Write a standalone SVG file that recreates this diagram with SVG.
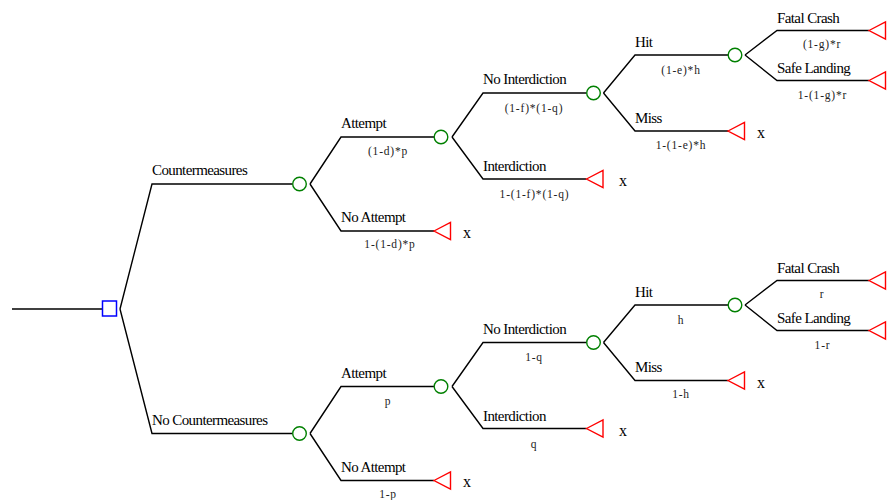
<svg xmlns="http://www.w3.org/2000/svg" width="896" height="500" viewBox="0 0 896 500">
  <style>
    .edge { fill: none; stroke: #000; stroke-width: 1.4; }
    .chance { fill: #fff; stroke: #008000; stroke-width: 1.4; }
    .decision { fill: #fff; stroke: #0000ff; stroke-width: 1.5; }
    .terminal { fill: #fff; stroke: #ff0000; stroke-width: 1.4; }
    .name { font-family: "Liberation Serif", "Times New Roman", serif; font-size: 15px; letter-spacing: -0.6px; fill: #000; }
    .prob { font-family: "Liberation Serif", "Times New Roman", serif; font-size: 11.5px; letter-spacing: 0.8px; fill: #222; text-anchor: middle; }
    .payoff { font-family: "Liberation Serif", "Times New Roman", serif; font-size: 16px; fill: #000; }
  </style>
  <defs>
    <path id="tri" d="M0,0 L16.5,-8.5 L16.5,8.5 Z"/>
  </defs>
  <rect width="896" height="500" fill="#fff"/>

  <!-- branches -->
  <g id="connectors">
    <path class="edge" d="M12,309 H102.5"/>
    <path class="edge" d="M120,309 L152,184 H292.5"/>
    <path class="edge" d="M120,309 L152,433.5 H292.5"/>
    <!-- with countermeasures -->
    <path class="edge" d="M310,184 L341,137 H434"/>
    <path class="edge" d="M310,184 L341,231 H434"/>
    <path class="edge" d="M452,137 L483,93 H586.5"/>
    <path class="edge" d="M452,137 L483,179 H586.5"/>
    <path class="edge" d="M603.5,93 L635,55 H728"/>
    <path class="edge" d="M603.5,93 L635,131 H728"/>
    <path class="edge" d="M745,55 L777,30.5 H869"/>
    <path class="edge" d="M745,55 L777,80.5 H869"/>
    <!-- no countermeasures -->
    <path class="edge" d="M310,433.5 L341,386.5 H434"/>
    <path class="edge" d="M310,433.5 L341,480.5 H434"/>
    <path class="edge" d="M452,386.5 L483,342.5 H586.5"/>
    <path class="edge" d="M452,386.5 L483,428.5 H586.5"/>
    <path class="edge" d="M603.5,342.5 L635,305 H728"/>
    <path class="edge" d="M603.5,342.5 L635,380.5 H728"/>
    <path class="edge" d="M745,305 L777,280.5 H869"/>
    <path class="edge" d="M745,305 L777,330.5 H869"/>
  </g>

  <g id="branch-labels">
    <text class="name" x="152" y="175">Countermeasures</text>
    <text class="name" x="152" y="424.5">No Countermeasures</text>

    <text class="name" x="341" y="128">Attempt</text>
    <text class="prob" x="388" y="155">(1-d)*p</text>
    <text class="name" x="341" y="222">No Attempt</text>
    <text class="prob" x="390" y="248">1-(1-d)*p</text>
    <text class="name" x="483" y="84">No Interdiction</text>
    <text class="prob" x="534" y="111.5">(1-f)*(1-q)</text>
    <text class="name" x="483" y="171">Interdiction</text>
    <text class="prob" x="534.5" y="198">1-(1-f)*(1-q)</text>
    <text class="name" x="635" y="46.5">Hit</text>
    <text class="prob" x="681" y="74">(1-e)*h</text>
    <text class="name" x="635" y="122.5">Miss</text>
    <text class="prob" x="681" y="148.5">1-(1-e)*h</text>
    <text class="name" x="777" y="22.5">Fatal Crash</text>
    <text class="prob" x="822" y="47.5">(1-g)*r</text>
    <text class="name" x="777" y="72.5">Safe Landing</text>
    <text class="prob" x="822.5" y="99">1-(1-g)*r</text>

    <text class="name" x="341" y="377.5">Attempt</text>
    <text class="prob" x="388" y="404.5">p</text>
    <text class="name" x="341" y="471.5">No Attempt</text>
    <text class="prob" x="388" y="497.5">1-p</text>
    <text class="name" x="483" y="333.5">No Interdiction</text>
    <text class="prob" x="534" y="361">1-q</text>
    <text class="name" x="483" y="420.5">Interdiction</text>
    <text class="prob" x="534" y="447.5">q</text>
    <text class="name" x="635" y="296.5">Hit</text>
    <text class="prob" x="681" y="324">h</text>
    <text class="name" x="635" y="372">Miss</text>
    <text class="prob" x="681" y="398">1-h</text>
    <text class="name" x="777" y="272.5">Fatal Crash</text>
    <text class="prob" x="822" y="297.5">r</text>
    <text class="name" x="777" y="322.5">Safe Landing</text>
    <text class="prob" x="822.5" y="348.5">1-r</text>
  </g>

  <!-- decision node -->
  <g id="decision">
    <rect class="decision" x="102.5" y="301" width="14" height="15"/>
  </g>

  <!-- chance nodes -->
  <g id="chance-cm"><circle class="chance" cx="299.5" cy="184" r="6.8"/></g>
  <g id="chance-cm-attempt"><circle class="chance" cx="441" cy="137" r="6.8"/></g>
  <g id="chance-cm-nointerdiction"><circle class="chance" cx="593.5" cy="93" r="6.8"/></g>
  <g id="chance-cm-hit"><circle class="chance" cx="735" cy="55" r="6.8"/></g>
  <g id="chance-ncm"><circle class="chance" cx="299.5" cy="433.5" r="6.8"/></g>
  <g id="chance-ncm-attempt"><circle class="chance" cx="441" cy="386.5" r="6.8"/></g>
  <g id="chance-ncm-nointerdiction"><circle class="chance" cx="593.5" cy="342.5" r="6.8"/></g>
  <g id="chance-ncm-hit"><circle class="chance" cx="735" cy="305" r="6.8"/></g>

  <!-- terminal nodes -->
  <g id="end-cm-noattempt"><use href="#tri" class="terminal" x="434" y="231"/><text class="payoff" x="463" y="237.5">x</text></g>
  <g id="end-cm-interdiction"><use href="#tri" class="terminal" x="586.5" y="179"/><text class="payoff" x="619" y="186">x</text></g>
  <g id="end-cm-miss"><use href="#tri" class="terminal" x="728" y="131"/><text class="payoff" x="757" y="138">x</text></g>
  <g id="end-cm-fatal"><use href="#tri" class="terminal" x="869" y="30.5"/></g>
  <g id="end-cm-safe"><use href="#tri" class="terminal" x="869" y="80.5"/></g>
  <g id="end-ncm-noattempt"><use href="#tri" class="terminal" x="434" y="480.5"/><text class="payoff" x="463" y="487">x</text></g>
  <g id="end-ncm-interdiction"><use href="#tri" class="terminal" x="586.5" y="428.5"/><text class="payoff" x="619" y="435.5">x</text></g>
  <g id="end-ncm-miss"><use href="#tri" class="terminal" x="728" y="380.5"/><text class="payoff" x="757" y="387.5">x</text></g>
  <g id="end-ncm-fatal"><use href="#tri" class="terminal" x="869" y="280.5"/></g>
  <g id="end-ncm-safe"><use href="#tri" class="terminal" x="869" y="330.5"/></g>
</svg>
